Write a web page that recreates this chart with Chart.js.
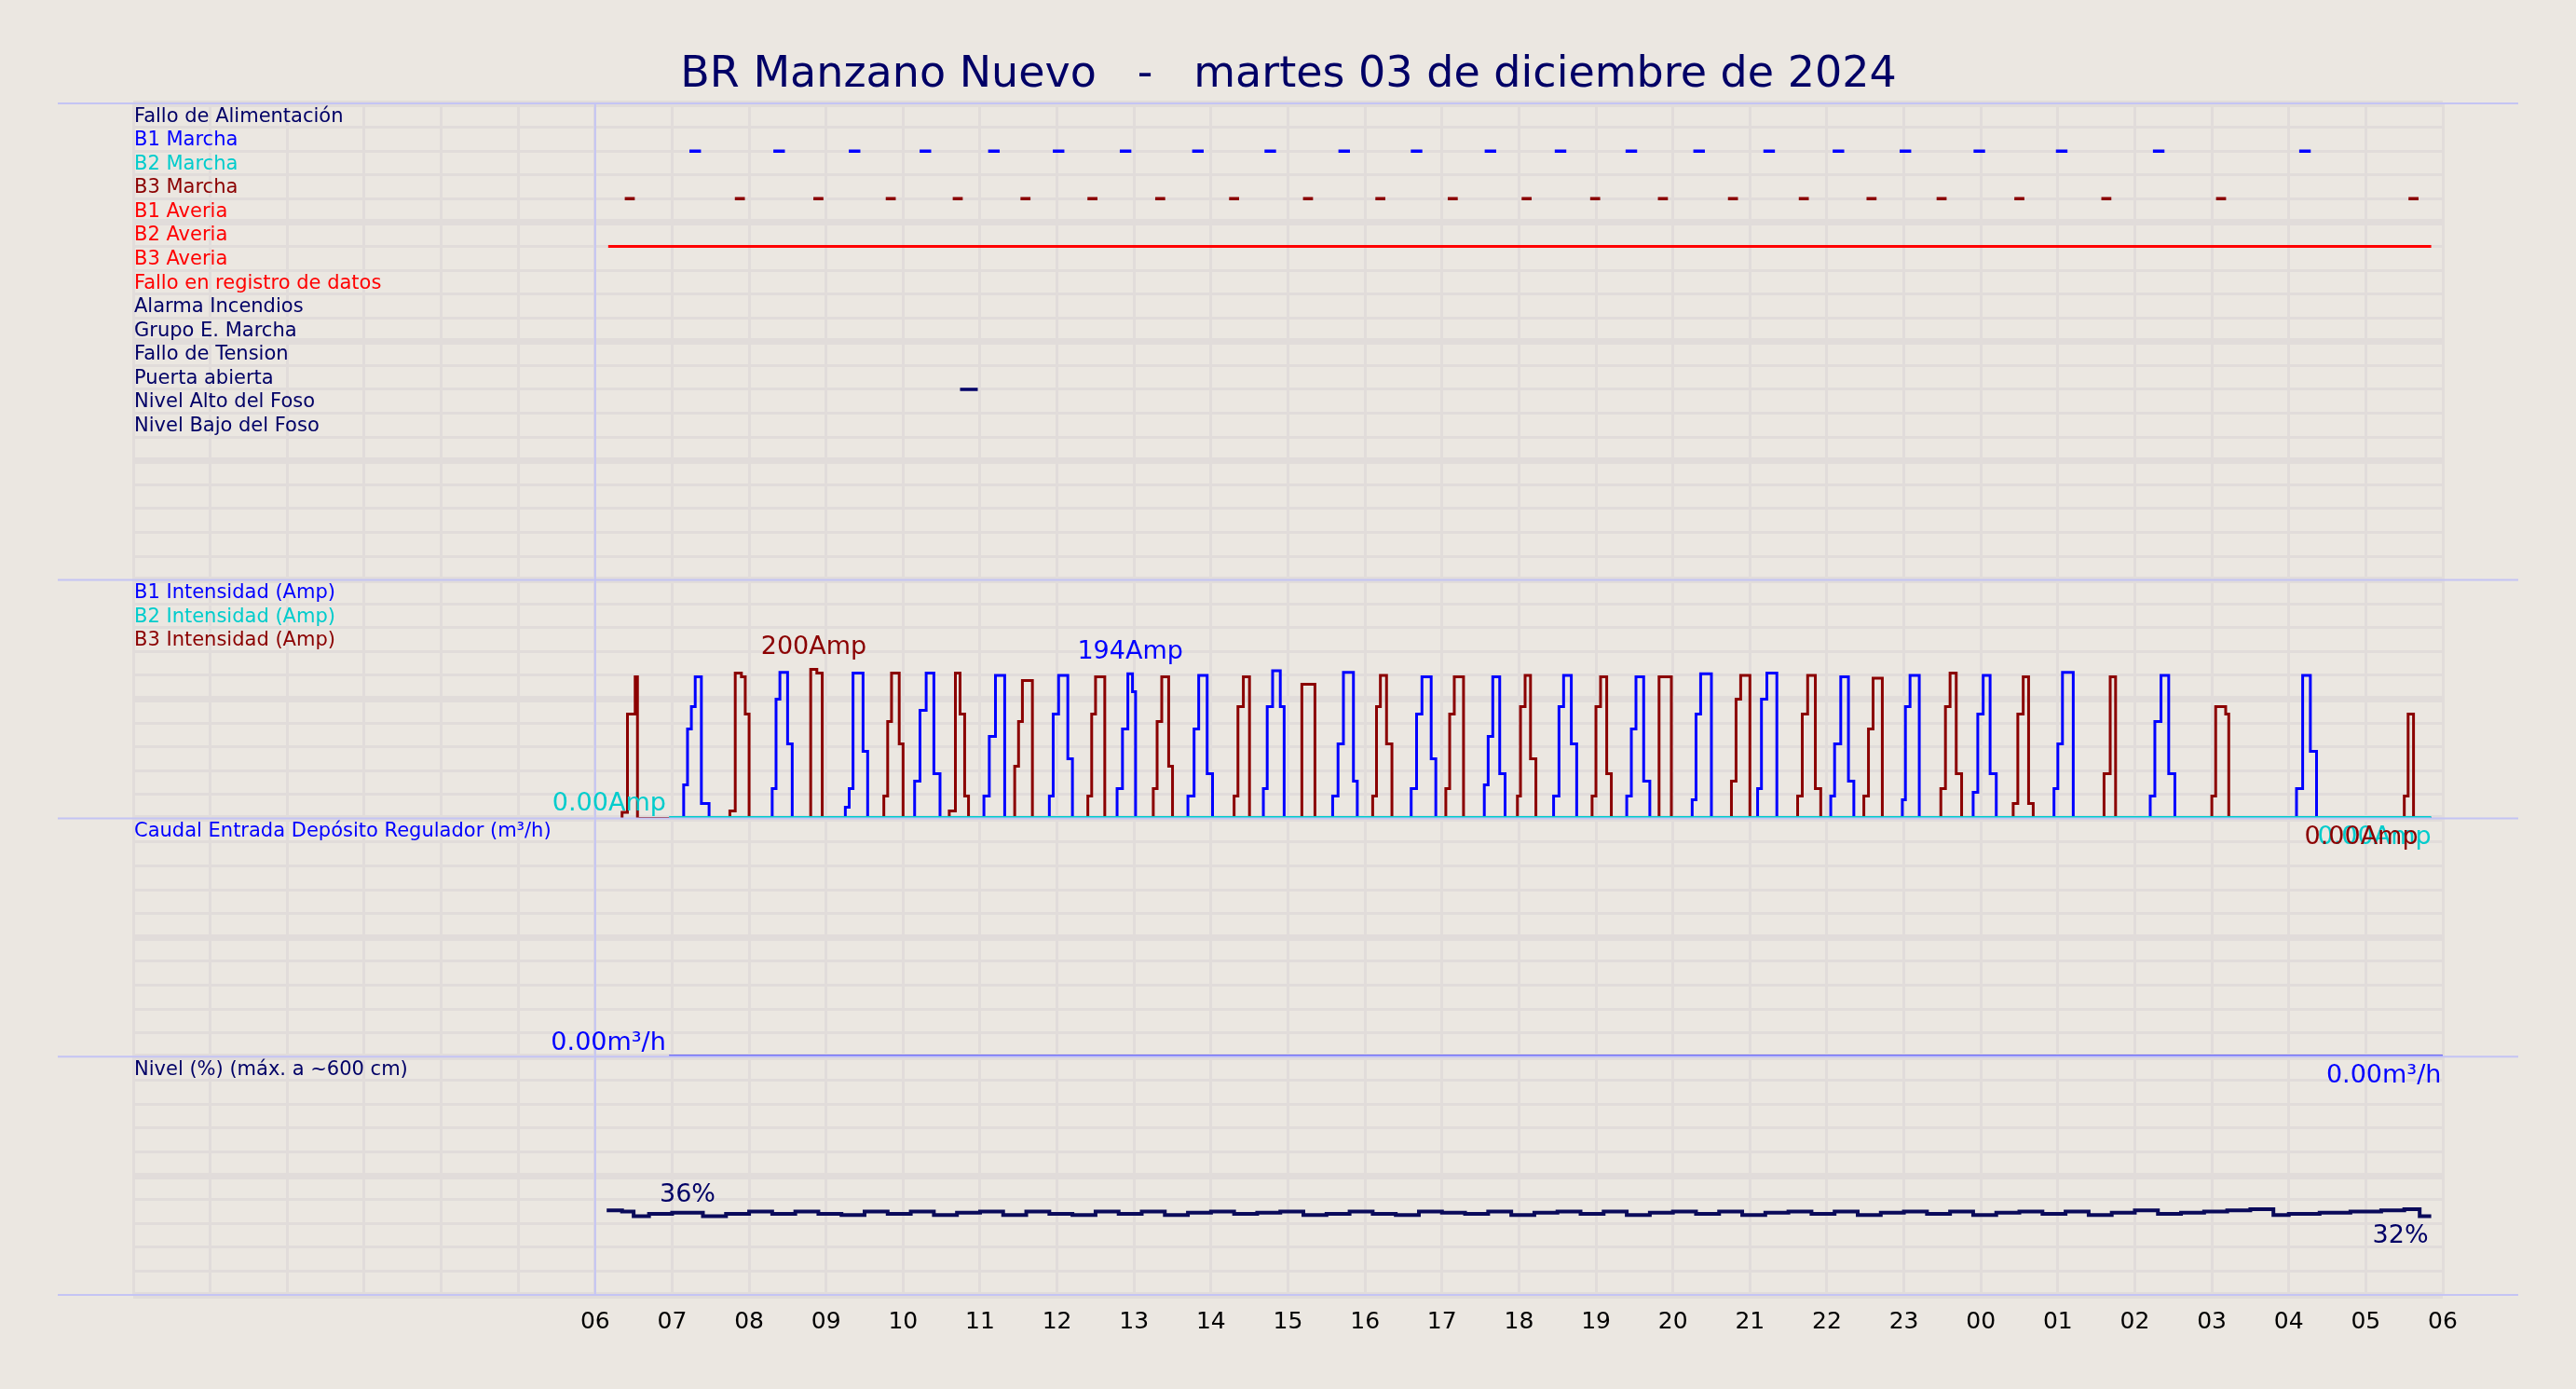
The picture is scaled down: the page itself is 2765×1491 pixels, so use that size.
<!DOCTYPE html>
<html>
<head>
<meta charset="utf-8">
<script src="https://cdn.jsdelivr.net/npm/chart.js@4/dist/chart.umd.min.js"></script>
<style>
  html, body { margin: 0; padding: 0; background: #ebe7e1; }
  #wrap { width: 2765px; height: 1491px; }
</style>
</head>
<body>
<div id="wrap"><canvas id="c" width="2765" height="1491"></canvas></div>
<script>
// Hours counted from 06:00 of the day shown
const TITLE = 'BR Manzano Nuevo   -   martes 03 de diciembre de 2024';

const STATUS_LABELS = ['Fallo de Alimentación', 'B1 Marcha', 'B2 Marcha', 'B3 Marcha', 'B1 Averia', 'B2 Averia',
    'B3 Averia', 'Fallo en registro de datos', 'Alarma Incendios', 'Grupo E. Marcha', 'Fallo de Tension',
    'Puerta abierta', 'Nivel Alto del Foso', 'Nivel Bajo del Foso'];
const STATUS_COLORS = ['#000066', '#0000ff', '#00cccc', '#8b0000', '#ff0000', '#ff0000', '#ff0000', '#ff0000',
    '#000066', '#000066', '#000066', '#000066', '#000066', '#000066'];

const B1_MARCHA = [1.30, 2.39, 3.37, 4.29, 5.18, 6.02, 6.89, 7.83, 8.77, 9.73, 10.67, 11.63, 12.54, 13.46,
    14.34, 15.25, 16.15, 17.02, 17.98, 19.05, 20.31, 22.21];
const B3_MARCHA = [0.45, 1.88, 2.90, 3.84, 4.71, 5.59, 6.46, 7.34, 8.30, 9.26, 10.20, 11.14, 12.10, 12.99,
    13.87, 14.78, 15.70, 16.58, 17.49, 18.50, 19.63, 21.12, 23.62];
const B2_AVERIA = [[0.17, 23.85]];
const PUERTA = [[4.74, 4.97]];

const AMP_LABELS = ['B1 Intensidad (Amp)', 'B2 Intensidad (Amp)', 'B3 Intensidad (Amp)'];
const B1_AMPS = [
    [1.0,0],[1.15,0],[1.15,45],[1.2,120],[1.25,150],[1.3,190],[1.38,20],[1.48,0],
    [2.3,0],[2.3,40],[2.35,160],[2.4,196],[2.5,100],[2.56,0],
    [3.25,0],[3.25,15],[3.3,40],[3.35,195],[3.48,90],[3.54,0],
    [4.15,0],[4.15,50],[4.22,145],[4.3,195],[4.4,60],[4.48,0],
    [5.05,0],[5.05,30],[5.12,110],[5.2,192],[5.32,0],
    [5.9,0],[5.9,30],[5.95,140],[6.02,192],[6.14,80],[6.2,0],
    [6.78,0],[6.78,40],[6.85,120],[6.92,194],[6.98,170],[7.02,0],
    [7.7,0],[7.7,30],[7.78,120],[7.84,192],[7.95,60],[8.02,0],
    [8.68,0],[8.68,40],[8.73,150],[8.8,198],[8.9,150],[8.95,0],
    [9.58,0],[9.58,30],[9.65,100],[9.72,196],[9.85,50],[9.9,0],
    [10.6,0],[10.6,40],[10.67,140],[10.74,190],[10.86,80],[10.92,0],
    [11.55,0],[11.55,45],[11.6,110],[11.66,190],[11.75,60],[11.82,0],
    [12.45,0],[12.45,30],[12.52,150],[12.58,192],[12.68,100],[12.75,0],
    [13.4,0],[13.4,30],[13.46,120],[13.52,190],[13.62,50],[13.7,0],
    [14.25,0],[14.25,25],[14.3,140],[14.36,194],[14.5,0],
    [15.1,0],[15.1,40],[15.15,160],[15.22,195],[15.35,0],
    [16.05,0],[16.05,30],[16.1,100],[16.18,190],[16.28,50],[16.35,0],
    [16.98,0],[16.98,25],[17.02,150],[17.08,192],[17.2,0],
    [17.9,0],[17.9,35],[17.96,140],[18.03,192],[18.12,60],[18.2,0],
    [18.95,0],[18.95,40],[19.0,100],[19.06,196],[19.2,0],
    [20.2,0],[20.2,30],[20.26,130],[20.34,192],[20.44,60],[20.52,0],
    [22.1,0],[22.1,40],[22.18,192],[22.28,90],[22.36,0],
    [23.85,0]
];
const B2_AMPS = [[0.96,0],[23.85,0]];
const B3_AMPS = [
    [0.35,0],[0.35,8],[0.42,140],[0.5,140],[0.52,190],[0.55,0],
    [1.75,0],[1.75,10],[1.82,195],[1.9,190],[1.95,140],[2.0,0],
    [2.8,0],[2.8,200],[2.88,195],[2.95,0],
    [3.75,0],[3.75,30],[3.8,130],[3.85,195],[3.95,100],[4.0,0],
    [4.6,0],[4.6,10],[4.68,195],[4.74,140],[4.8,30],[4.85,0],
    [5.45,0],[5.45,70],[5.5,130],[5.55,185],[5.68,0],
    [6.4,0],[6.4,30],[6.45,140],[6.5,190],[6.62,0],
    [7.25,0],[7.25,40],[7.3,130],[7.36,190],[7.45,70],[7.5,0],
    [8.3,0],[8.3,30],[8.35,150],[8.42,190],[8.5,0],
    [9.18,0],[9.18,180],[9.35,0],
    [10.1,0],[10.1,30],[10.15,150],[10.2,192],[10.28,100],[10.35,0],
    [11.05,0],[11.05,40],[11.1,140],[11.16,190],[11.28,0],
    [11.98,0],[11.98,30],[12.02,150],[12.08,192],[12.15,80],[12.22,0],
    [12.95,0],[12.95,30],[13.0,150],[13.06,190],[13.14,60],[13.2,0],
    [13.82,0],[13.82,190],[13.98,0],
    [14.76,0],[14.76,50],[14.82,160],[14.88,192],[15.0,0],
    [15.62,0],[15.62,30],[15.68,140],[15.75,192],[15.85,40],[15.92,0],
    [16.48,0],[16.48,30],[16.54,120],[16.6,188],[16.72,0],
    [17.48,0],[17.48,40],[17.54,150],[17.6,195],[17.68,60],[17.75,0],
    [18.42,0],[18.42,20],[18.48,140],[18.55,190],[18.62,20],[18.68,0],
    [19.6,0],[19.6,60],[19.68,190],[19.75,0],
    [21.0,0],[21.0,30],[21.05,150],[21.18,140],[21.22,0],
    [23.5,0],[23.5,30],[23.55,140],[23.62,0],
    [23.85,0]
];

const FLOW_LABEL = 'Caudal Entrada Depósito Regulador (m³/h)';
const FLOW = [[0.96,0],[24,0]];

const LEVEL_LABEL = 'Nivel (%) (máx. a ~600 cm)';
const LEVEL_X = [0.15,0.35,0.5,0.7,1.0,1.3,1.4,1.7,2.0,2.3,2.6,2.9,3.2,3.5,3.8,4.1,4.4,4.7,5.0,5.3,
    5.6,5.9,6.2,6.5,6.8,7.1,7.4,7.7,8.0,8.3,8.6,8.9,9.2,9.5,9.8,10.1,10.4,10.7,11.0,11.3,
    11.6,11.9,12.2,12.5,12.8,13.1,13.4,13.7,14.0,14.3,14.6,14.9,15.2,15.5,15.8,16.1,16.4,16.7,17.0,17.3,
    17.6,17.9,18.2,18.5,18.8,19.1,19.4,19.7,20.0,20.3,20.6,20.9,21.2,21.5,21.8,22.0,22.4,22.8,23.2,23.5,
    23.7,23.85];
const LEVEL_V = [35.5,35,33,34,34.5,34.5,33,34,35,34,35,34,33.5,35,34,35,33.5,34.5,35,33.5,
    35,34,33.5,35,34,35,33.5,34.5,35,34,34.5,35,33.5,34,35,34,33.5,35,34.5,34,
    35,33.5,34.5,35,34,35,33.5,34.5,35,34,35,33.5,34.5,35,34,35,33.5,34.5,35,34,
    35,33.5,34.5,35,34,35,33.5,34.5,35.5,34,34.5,35,35.5,36,33.5,34,34.5,35,35.5,36,
    33,33];

const NAVY = '#000066';
const hh = v => String((v + 6) % 24).padStart(2, '0');

function segs(ranges, y) {
    const out = [];
    ranges.forEach(r => { out.push({x: r[0], y}, {x: r[1], y}, {x: r[1], y: null}); });
    return out;
}
const dash = (starts, w) => starts.map(s => [s - w / 2, s + w / 2]);
const pts = arr => arr.map(p => ({x: p[0], y: p[1]}));

const statusDs = (data, color, width) => ({
    data, yAxisID: 'yS', borderColor: color, borderWidth: width, pointRadius: 0, spanGaps: false
});
const stepDs = (data, axis, color, width) => ({
    data, yAxisID: axis, borderColor: color, borderWidth: width, pointRadius: 0, stepped: true
});

const levelPts = LEVEL_X.slice(0, LEVEL_V.length).map((x, i) => ({x, y: LEVEL_V[i]}));

const gridCfg = (thickEvery) => ({
    color: '#e1dcda',
    lineWidth: c => (c.index % thickEvery === 0 ? 7 : 3),
    drawTicks: false
});

const textPlugin = {
    id: 'texts',
    afterDraw(chart) {
        const ctx = chart.ctx, a = chart.chartArea, s = chart.scales;
        const x = s.x, yS = s.yS, yA = s.yA, yF = s.yF, yL = s.yL;
        ctx.save();
        // title
        ctx.fillStyle = NAVY;
        ctx.font = '46px "DejaVu Sans"';
        ctx.textAlign = 'center';
        ctx.textBaseline = 'middle';
        ctx.fillText(TITLE, 1383, 81);
        // panel separators
        ctx.strokeStyle = '#c4c4f4';
        ctx.lineWidth = 2;
        [yS.top, yA.top, yF.top, yL.top, yL.bottom].forEach(py => {
            ctx.beginPath(); ctx.moveTo(62, py); ctx.lineTo(2703, py); ctx.stroke();
        });
        ctx.beginPath(); ctx.moveTo(x.getPixelForValue(0), a.top); ctx.lineTo(x.getPixelForValue(0), a.bottom); ctx.stroke();

        ctx.font = '21px "DejaVu Sans"';
        ctx.textAlign = 'left';
        ctx.textBaseline = 'bottom';
        const lx = a.left + 1;
        STATUS_LABELS.forEach((t, i) => {
            ctx.fillStyle = STATUS_COLORS[i];
            ctx.fillText(t, lx, yS.getPixelForValue(i + 1) - 1);
        });
        const ampColors = ['#0000ff', '#00cccc', '#8b0000'];
        AMP_LABELS.forEach((t, i) => {
            ctx.fillStyle = ampColors[i];
            ctx.fillText(t, lx, yA.getPixelForValue(320 - 32 * (i + 1)) - 1);
        });
        ctx.fillStyle = '#0000ff';
        ctx.fillText(FLOW_LABEL, lx, yF.getPixelForValue(9) - 1);
        ctx.fillStyle = NAVY;
        ctx.fillText(LEVEL_LABEL, lx, yL.getPixelForValue(90) - 1);

        // value annotations
        ctx.font = '27px "DejaVu Sans"';
        ctx.textBaseline = 'middle';
        const lab = (t, hx, py, color, align) => {
            ctx.fillStyle = color; ctx.textAlign = align; ctx.fillText(t, x.getPixelForValue(hx), py);
        };
        lab('200Amp', 2.84, yA.getPixelForValue(230), '#8b0000', 'center');
        lab('194Amp', 6.95, yA.getPixelForValue(223), '#0000ff', 'center');
        lab('0.00Amp', 0.92, yA.getPixelForValue(19), '#00cccc', 'right');
        lab('0.00Amp', 23.85, yA.getPixelForValue(-26), '#00cccc', 'right');
        lab('0.00Amp', 23.68, yA.getPixelForValue(-26), '#8b0000', 'right');
        lab('0.00m³/h', 0.92, yF.getPixelForValue(0.55), '#0000ff', 'right');
        lab('0.00m³/h', 23.98, yF.getPixelForValue(-0.8), '#0000ff', 'right');
        lab('36%', 1.2, yL.getPixelForValue(42), NAVY, 'center');
        lab('32%', 23.45, yL.getPixelForValue(24.5), NAVY, 'center');
        ctx.restore();
    }
};

new Chart(document.getElementById('c'), {
    type: 'line',
    data: {
        datasets: [
            statusDs(segs(dash(B1_MARCHA, 0.15), 2), '#0000ff', 3.5),
            statusDs(segs(dash(B3_MARCHA, 0.13), 4), '#8b0000', 3.5),
            statusDs(segs(B2_AVERIA, 6), '#ff0000', 3),
            statusDs(segs(PUERTA, 12), NAVY, 3.5),
            stepDs(pts(B2_AMPS), 'yA', '#00cccc', 5),
            stepDs(pts(B1_AMPS), 'yA', '#0000ff', 3),
            stepDs(pts(B3_AMPS), 'yA', '#8b0000', 3),
            stepDs(pts(FLOW), 'yF', '#4848ff', 4),
            stepDs(levelPts, 'yL', '#0a0a5a', 4)
        ]
    },
    options: {
        responsive: false,
        animation: false,
        layout: { padding: { left: 143, right: 143, top: 111, bottom: 43 } },
        plugins: { legend: { display: false }, tooltip: { enabled: false } },
        scales: {
            x: {
                type: 'linear', min: -6, max: 24,
                grid: { color: '#e1dcda', lineWidth: 3, drawTicks: false },
                border: { display: false },
                ticks: {
                    stepSize: 1, padding: 14, color: '#000000',
                    font: { family: 'DejaVu Sans', size: 25 },
                    callback: v => (v >= 0 ? hh(v) : '')
                }
            },
            // stacked axes are laid out bottom-up in definition order
            yL: {
                type: 'linear', min: 0, max: 100, stack: 'p', stackWeight: 1,
                ticks: { display: false, stepSize: 10 }, grid: gridCfg(5), border: { display: false }
            },
            yF: {
                type: 'linear', min: 0, max: 10, stack: 'p', stackWeight: 1,
                ticks: { display: false, stepSize: 1 }, grid: gridCfg(5), border: { display: false }
            },
            yA: {
                type: 'linear', min: 0, max: 320, stack: 'p', stackWeight: 1,
                ticks: { display: false, stepSize: 32 }, grid: gridCfg(5), border: { display: false }
            },
            yS: {
                type: 'linear', min: 0, max: 20, reverse: true, stack: 'p', stackWeight: 2,
                ticks: { display: false, stepSize: 1 }, grid: gridCfg(5), border: { display: false }
            }
        }
    },
    plugins: [textPlugin]
});
</script>
</body>
</html>
